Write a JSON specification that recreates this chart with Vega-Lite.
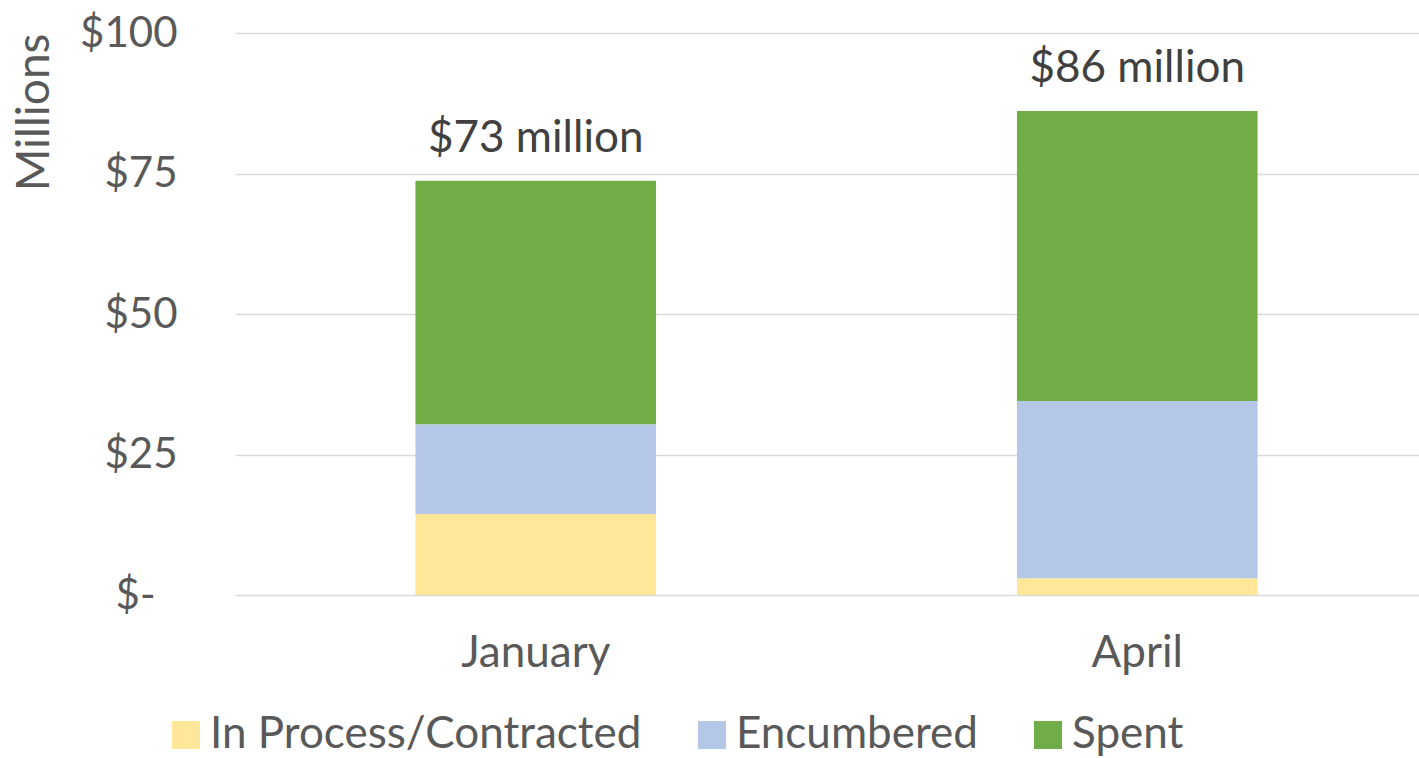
{
  "$schema": "https://vega.github.io/schema/vega-lite/v6.json",
  "autosize": "none",
  "width": 1203,
  "height": 562,
  "padding": {"left": 235, "top": 33, "right": -19, "bottom": 163},
  "background": "white",
  "config": {
    "font": "Lato",
    "view": {"stroke": null},
    "axis": {"labelFont": "Lato", "titleFont": "Lato", "labelColor": "#595959", "titleColor": "#595959"}
  },
  "datasets": {
    "parts": [
      {"month": "January", "category": "In Process/Contracted", "rank": 1, "value": 14.4},
      {"month": "January", "category": "Encumbered", "rank": 2, "value": 16.0},
      {"month": "January", "category": "Spent", "rank": 3, "value": 43.3},
      {"month": "April", "category": "In Process/Contracted", "rank": 1, "value": 3.0},
      {"month": "April", "category": "Encumbered", "rank": 2, "value": 31.5},
      {"month": "April", "category": "Spent", "rank": 3, "value": 51.6}
    ],
    "totals": [
      {"month": "January", "total": 73.7, "label": "$73 million"},
      {"month": "April", "total": 86.1, "label": "$86 million"}
    ]
  },
  "layer": [
    {
      "data": {"name": "parts"},
      "mark": {"type": "bar"},
      "encoding": {
        "x": {
          "field": "month", "type": "nominal", "sort": ["January", "April"],
          "scale": {"paddingInner": 0.6, "paddingOuter": 0.3},
          "axis": {"title": null, "labelAngle": 0, "labelFontSize": 44, "labelPadding": 36, "ticks": false, "domain": false}
        },
        "y": {
          "field": "value", "type": "quantitative", "aggregate": "sum", "stack": "zero",
          "scale": {"domain": [0, 100]},
          "axis": {
            "title": "Millions", "titleFontSize": 46, "titleFontWeight": "normal", "titleAnchor": "end", "titlePadding": 21,
            "values": [0, 25, 50, 75, 100],
            "labelExpr": "datum.value == 0 ? '$-' : '$' + datum.value",
            "labelFontSize": 42,
            "labelPadding": {"condition": {"test": "datum.value == 0", "value": 80}, "value": 58},
            "ticks": false, "domain": false,
            "gridColor": "#d9d9d9", "gridWidth": 1.5
          }
        },
        "color": {
          "field": "category", "type": "nominal",
          "scale": {"domain": ["In Process/Contracted", "Encumbered", "Spent"], "range": ["#FFE699", "#B4C7E7", "#70AD47"]},
          "legend": {
            "title": null, "orient": "none", "direction": "horizontal", "legendX": -71, "legendY": 680,
            "symbolType": "square", "symbolSize": 784, "symbolStrokeWidth": 0, "symbolOpacity": 1,
            "labelFontSize": 44, "labelColor": "#595959", "labelOffset": 2, "columnPadding": 48, "labelLimit": 700
          }
        },
        "order": {"field": "rank", "type": "quantitative"}
      }
    },
    {
      "data": {"name": "totals"},
      "mark": {"type": "text", "baseline": "bottom", "dy": -20, "fontSize": 44, "color": "#404040", "font": "Lato"},
      "encoding": {
        "x": {"field": "month", "type": "nominal", "sort": ["January", "April"]},
        "y": {"field": "total", "type": "quantitative"},
        "text": {"field": "label"}
      }
    }
  ]
}
